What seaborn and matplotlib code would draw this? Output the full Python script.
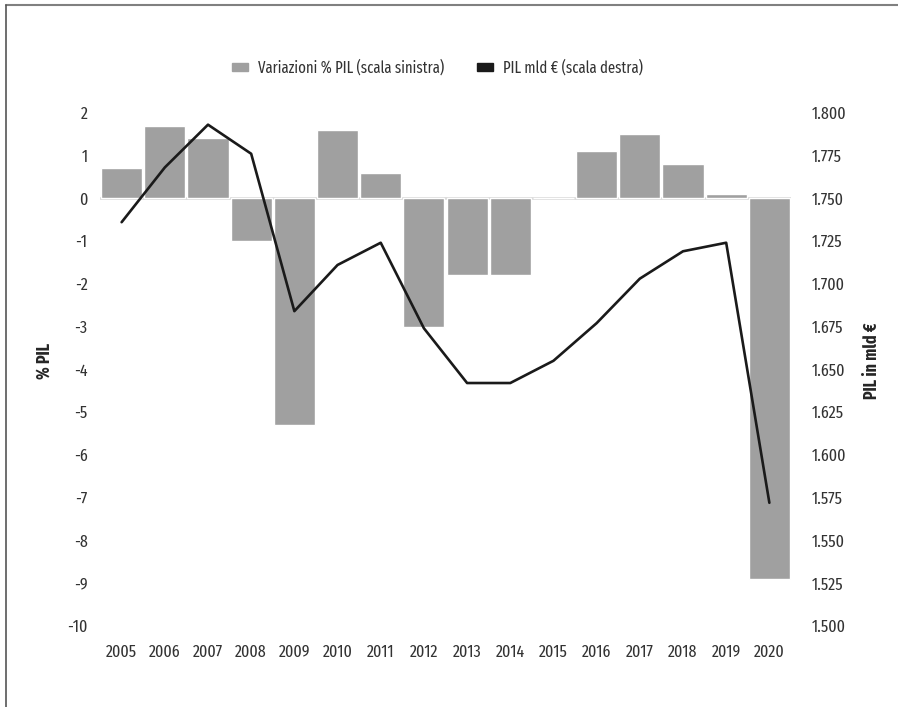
import numpy as np
import seaborn as sns
import matplotlib.pyplot as plt
from matplotlib import font_manager
from matplotlib.patches import Patch
from matplotlib.lines import Line2D
from matplotlib.ticker import FuncFormatter

# data
years = [str(y) for y in range(2005, 2021)]
var_pil = [0.7, 1.7, 1.4, -1.0, -5.3, 1.6, 0.6, -3.0, -1.8, -1.8, 0.0, 1.1, 1.5, 0.8, 0.1, -8.9]
pil_mld = [1736, 1768, 1793, 1776, 1684, 1711, 1724, 1674, 1642, 1642, 1655, 1677, 1703, 1719, 1724, 1572]
left_ticks = list(range(-10, 3))
right_ticks = list(range(1500, 1801, 25))

sns.set_theme(style="white")
names = {f.name for f in font_manager.fontManager.ttflist}
fam = [f for f in ["Fira Sans Extra Condensed", "PT Sans Narrow", "Open Sans Condensed", "DejaVu Sans"]
       if f in names]
plt.rcParams['font.family'] = fam

bar_col = "#a0a0a0"
line_col = "#1a1a1a"
txt_col = "#333333"
fs = 12.5

fig = plt.figure(figsize=(8.98, 7.07), dpi=100)
ax = fig.add_axes([0.1114, 0.1146, 0.7694, 0.726])

ax.axhline(0, color="#d9d9d9", lw=2, zorder=0)
sns.barplot(x=years, y=var_pil, color=bar_col, saturation=1, width=0.95, ax=ax, zorder=2)
ax.set_xlim(-0.5, len(years) - 0.5)
ax.set_ylim(-10, 2)
ax.set_yticks(left_ticks)
ax.set_yticklabels([str(t) for t in left_ticks])

ax2 = ax.twinx()
sns.lineplot(x=np.arange(len(years)), y=pil_mld, color=line_col, lw=1.9, ax=ax2)
ax2.set_ylim(1500, 1800)
ax2.set_yticks(right_ticks)
ax2.yaxis.set_major_formatter(FuncFormatter(lambda v, p: f"{v:,.0f}".replace(",", ".")))
ax2.set_xlim(-0.5, len(years) - 0.5)

for a in (ax, ax2):
    for s in a.spines.values():
        s.set_visible(False)
    a.grid(False)
    a.set_xlabel("")
    a.set_ylabel("")
ax.tick_params(axis="x", length=0, pad=13, labelsize=fs, colors=txt_col)
ax.tick_params(axis="y", length=0, pad=9, labelsize=fs, colors=txt_col)
ax2.tick_params(axis="y", length=0, pad=15, labelsize=fs, colors=txt_col)

fig.text(0.05, 0.49, "% PIL", rotation=90, ha="center", va="center",
         fontsize=fs, fontweight="bold", color="#262626")
fig.text(0.971, 0.49, "PIL in mld €", rotation=90, ha="center", va="center",
         fontsize=fs, fontweight="bold", color="#262626")

handles = [Patch(color=bar_col, label="Variazioni % PIL (scala sinistra)"),
           Patch(color=line_col, label="PIL mld € (scala destra)")]
fig.legend(handles=handles, loc="center", bbox_to_anchor=(0.487, 0.904), ncol=2,
           frameon=False, fontsize=11.5, handlelength=1.0, handleheight=0.45,
           columnspacing=2.1, handletextpad=0.6, labelcolor=txt_col)

# frame lines on top and left of the figure
fig.add_artist(Line2D([6 / 898, 1], [1 - 5 / 707, 1 - 5 / 707], transform=fig.transFigure,
                      color="#808080", lw=1.5))
fig.add_artist(Line2D([6 / 898, 6 / 898], [0, 1 - 5 / 707], transform=fig.transFigure,
                      color="#555555", lw=1.2))

fig.savefig("out.png", dpi=100)
